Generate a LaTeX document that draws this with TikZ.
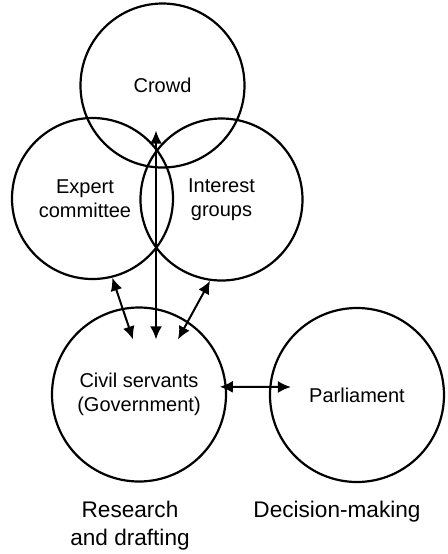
\documentclass[tikz,border=0pt]{standalone}
\usepackage{fontspec}
\setmainfont{Liberation Sans}
\usetikzlibrary{arrows.meta, positioning, calc}

\tikzset{
  circ/.style={draw, circle, line width=1.1pt, inner sep=0pt, align=center,
    font=\fontsize{10}{12}\selectfont},
  phase/.style={align=center, font=\fontsize{11.3}{14}\selectfont},
  link/.style={{Latex[length=6.5pt,width=6pt]}-{Latex[length=6.5pt,width=6pt]}, line width=1pt}
}

\begin{document}
\begin{tikzpicture}[x=0.5pt, y=-0.5pt]
\useasboundingbox (0,0) rectangle (448,554);
\node (crowd) at (162.5,85.5) [circ, minimum size=82pt] {Crowd};
\node (exp) at (92.5,198.5) [circ, minimum size=80.5pt,
  label={[xshift=-3.75pt, align=center, font=\fontsize{10}{12}\selectfont]center:Expert\\committee}] {};
\node (int) at (221.5,199.5) [circ, minimum size=81pt] {Interest\\groups};
\node (civ) at (139,394.5) [circ, minimum size=87pt] {Civil servants\\(Government)};
\node (parl) at (357,395) [circ, minimum size=87pt] {Parliament};
\node (res) at (130,526) [phase] {Research\\and drafting};
\node (dec) at (337,512) [phase] {Decision-making};
\draw [link] ([xshift=-3.25pt, yshift=19pt]crowd.south) -- ([xshift=8.5pt, yshift=-16.5pt]civ.north);
\draw [link] (exp.-76) -- ([xshift=-3pt, yshift=-16.5pt]civ.north);
\draw [link] (int.-98) -- ([xshift=19.5pt, yshift=-16.5pt]civ.north);
\draw [link] ([xshift=-3.5pt]civ.5) -- ([xshift=11pt, yshift=4pt]parl.west);
\end{tikzpicture}
\end{document}
